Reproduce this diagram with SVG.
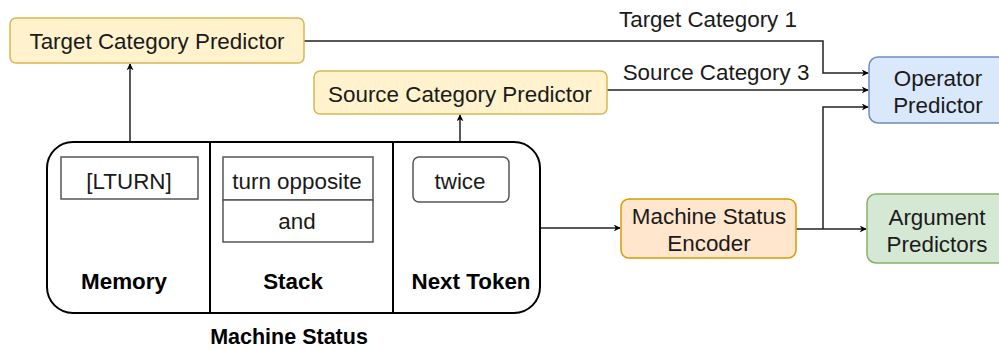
<svg xmlns="http://www.w3.org/2000/svg" width="999" height="350" viewBox="0 0 999 350">
<defs>
<marker id="arr" viewBox="0 0 10 10" refX="9" refY="5" markerWidth="7" markerHeight="7" markerUnits="userSpaceOnUse" orient="auto">
<path d="M0,0 L10,5 L0,10 L3,5 z" fill="#000"/>
</marker>
<style>
text{font-family:"Liberation Sans",Arial,sans-serif;font-size:22.4px;fill:#1a1a1a;text-anchor:middle}
.b{font-weight:bold;fill:#000}
.yel{fill:#fff2cc;stroke:#d6b656;stroke-width:1.5}
.org{fill:#ffe6cc;stroke:#d79b00;stroke-width:1.5}
.blu{fill:#dae8fc;stroke:#6c8ebf;stroke-width:1.5}
.grn{fill:#d5e8d4;stroke:#82b366;stroke-width:1.5}
.in{fill:#fff;stroke:#555;stroke-width:1.5}
.c{fill:none;stroke:#222;stroke-width:1.5}
.ca{fill:none;stroke:#222;stroke-width:1.5;marker-end:url(#arr)}
</style>
</defs>
<rect width="999" height="350" fill="#fff"/>
<g id="connectors">
<path class="ca" d="M304,41 H823 V73 H868"/>
<path class="ca" d="M607,90 H868"/>
<path class="ca" d="M796,229 H866"/>
<path class="ca" d="M823,229 V107 H868"/>
<path class="ca" d="M540,228 H620"/>
<path class="ca" d="M130,157 V64"/>
<path class="ca" d="M460,157 V115"/>
<text x="708" y="27">Target Category 1</text>
<text x="716" y="80">Source Category 3</text>
</g>
<g id="target-predictor">
<rect class="yel" x="10" y="18" width="294" height="45" rx="6"/>
<text x="157" y="49">Target Category Predictor</text>
</g>
<g id="source-predictor">
<rect class="yel" x="314" y="71" width="293" height="43" rx="6"/>
<text x="460" y="102">Source Category Predictor</text>
</g>
<g id="operator-predictor">
<rect class="blu" x="869" y="57" width="140" height="66" rx="9"/>
<text x="938" y="86">Operator</text>
<text x="938" y="113">Predictor</text>
</g>
<g id="argument-predictors">
<rect class="grn" x="867" y="194" width="142" height="69" rx="9"/>
<text x="937" y="225">Argument</text>
<text x="937" y="252">Predictors</text>
</g>
<g id="encoder">
<rect class="org" x="621" y="199" width="175" height="59" rx="8"/>
<text x="709" y="224">Machine Status</text>
<text x="709" y="251">Encoder</text>
</g>
<g id="machine-status">
<rect x="47" y="142" width="493" height="171" rx="26" fill="#fff" stroke="#000" stroke-width="2"/>
<line x1="210" y1="142" x2="210" y2="313" stroke="#000" stroke-width="2"/>
<line x1="393" y1="142" x2="393" y2="313" stroke="#000" stroke-width="2"/>
<g id="memory">
<rect class="in" x="61" y="157" width="137" height="42"/>
<text x="129" y="189">[LTURN]</text>
<text class="b" x="124" y="289">Memory</text>
</g>
<g id="stack">
<rect class="in" x="223" y="157" width="150" height="43"/>
<rect class="in" x="223" y="200" width="150" height="42"/>
<text x="297" y="189">turn opposite</text>
<text x="297" y="229">and</text>
<text class="b" x="293" y="289">Stack</text>
</g>
<g id="next-token">
<rect class="in" x="413" y="157" width="96" height="45" rx="6"/>
<text x="460" y="189">twice</text>
<text class="b" x="471" y="289">Next Token</text>
</g>
<text class="b" x="289" y="344" style="font-size:21.5px">Machine Status</text>
</g>
</svg>
